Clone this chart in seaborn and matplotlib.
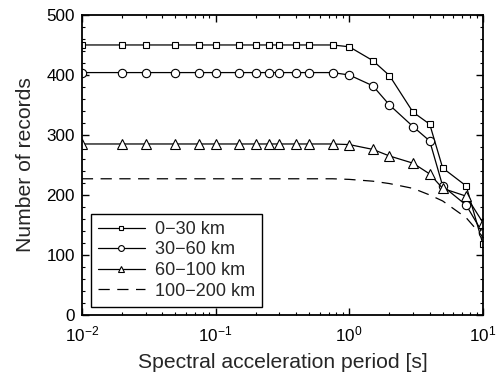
import numpy as np
import pandas as pd
import matplotlib
matplotlib.use("Agg")
import matplotlib.pyplot as plt
import seaborn as sns
from matplotlib.ticker import MultipleLocator, LogLocator

# spectral periods [s]
periods = [0.01, 0.02, 0.03, 0.05, 0.075, 0.1, 0.15, 0.2, 0.25, 0.3, 0.4,
           0.5, 0.75, 1.0, 1.5, 2.0, 3.0, 4.0, 5.0, 7.5, 10.0]

rec_0_30 = [450] * 13 + [447, 424, 399, 338, 318, 245, 215, 118]
rec_30_60 = [404] * 13 + [400, 382, 350, 314, 290, 215, 183, 136]
rec_60_100 = [285] * 13 + [284, 276, 265, 253, 235, 211, 198, 154]
rec_100_200 = [227] * 13 + [226, 223, 219, 211, 200, 190, 162, 130]

labels = ["0\u221230 km", "30\u221260 km", "60\u2212100 km", "100\u2212200 km"]

df = pd.DataFrame({
    "period": periods * 4,
    "records": rec_0_30 + rec_30_60 + rec_60_100 + rec_100_200,
    "bin": np.repeat(labels, len(periods)),
})

sns.set_style("ticks")
plt.rcParams["font.family"] = ["Liberation Sans", "DejaVu Sans"]
plt.rcParams["mathtext.fontset"] = "custom"
plt.rcParams["mathtext.rm"] = "Liberation Sans"
plt.rcParams["mathtext.it"] = "Liberation Sans:italic"

fig = plt.figure(figsize=(5.02, 3.78), dpi=100)
ax = fig.add_axes([0.163, 0.1667, 0.799, 0.7937])

styles = {
    labels[0]: dict(marker="s", markersize=5, linestyle="-"),
    labels[1]: dict(marker="o", markersize=6, linestyle="-"),
    labels[2]: dict(marker="^", markersize=6.5, linestyle="-"),
    labels[3]: dict(marker=None, linestyle=(0, (9, 6))),
}
for lab in labels:
    sub = df[df["bin"] == lab]
    sns.lineplot(data=sub, x="period", y="records", ax=ax, color="black",
                 linewidth=0.9, markerfacecolor="white",
                 markeredgecolor="black", markeredgewidth=0.8,
                 label=lab, **styles[lab])

ax.set_xscale("log")
ax.set_xlim(0.01, 10)
ax.set_ylim(0, 500)
ax.yaxis.set_major_locator(MultipleLocator(100))
ax.yaxis.set_minor_locator(MultipleLocator(20))
ax.xaxis.set_major_locator(LogLocator(base=10))
ax.xaxis.set_minor_locator(LogLocator(base=10, subs=np.arange(2, 10)))
ax.tick_params(which="both", direction="in", top=True, right=True,
               labelsize=12.3, colors="black")
ax.tick_params(which="major", length=5, width=1)
ax.tick_params(which="minor", length=2.5, width=0.8)
ax.tick_params(axis="x", pad=7)
ax.tick_params(axis="y", pad=5)
for s in ax.spines.values():
    s.set_linewidth(1.3)
    s.set_color("black")

ax.set_xlabel("Spectral acceleration period [s]", fontsize=15.2, labelpad=6)
ax.set_ylabel("Number of records", fontsize=15.2, labelpad=8)

leg = ax.legend(loc="lower left", bbox_to_anchor=(0.022, 0.027),
                fontsize=13, frameon=True, fancybox=False,
                handlelength=2.6, handletextpad=0.55, labelspacing=0.2,
                borderpad=0.4, borderaxespad=0, markerscale=0.7)
leg.get_frame().set_edgecolor("black")
leg.get_frame().set_linewidth(1.0)
leg.get_frame().set_alpha(1)

fig.savefig("out.png", dpi=100)
